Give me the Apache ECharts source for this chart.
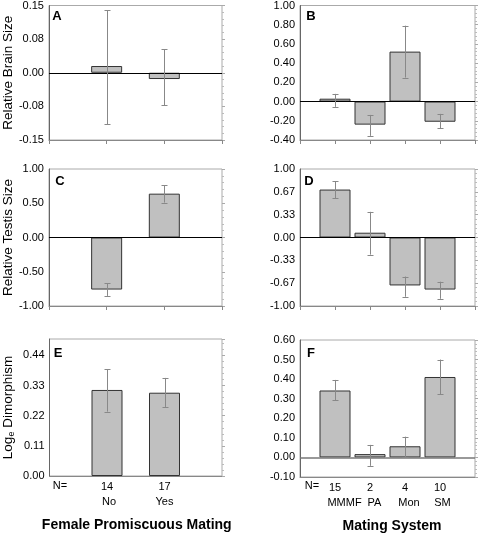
<!DOCTYPE html>
<html><head><meta charset="utf-8">
<script src="https://cdn.jsdelivr.net/npm/echarts@6/dist/echarts.min.js"></script>
<style>html,body{margin:0;padding:0;background:#fff}#c{width:478px;height:536px}</style>
</head><body><div id="c"></div>
<script>
// ---------- DATA ----------
// Panel A: Relative brain size by female promiscuous mating
const brainPromMean = [0.015, -0.014];
const brainPromLo   = [-0.115, -0.073];
const brainPromHi   = [0.139, 0.052];
// Panel B: Relative brain size by mating system
const brainMatMean = [0.03, -0.24, 0.52, -0.21];
const brainMatLo   = [-0.055, -0.357, 0.25, -0.278];
const brainMatHi   = [0.08, -0.139, 0.79, -0.128];
// Panel C: Relative testis size by female promiscuous mating
const testisPromMean = [-0.76, 0.64];
const testisPromLo   = [-0.853, 0.51];
const testisPromHi   = [-0.667, 0.76];
// Panel D: Relative testis size by mating system
const testisMatMean = [0.70, 0.07, -0.70, -0.76];
const testisMatLo   = [0.57, -0.25, -0.865, -0.895];
const testisMatHi   = [0.82, 0.375, -0.57, -0.645];
// Panel E: Log_e dimorphism by female promiscuous mating
const dimPromMean = [0.314, 0.304];
const dimPromLo   = [0.235, 0.252];
const dimPromHi   = [0.389, 0.358];
// Panel F: Log_e dimorphism by mating system
const dimMatMean = [0.342, 0.017, 0.057, 0.411];
const dimMatLo   = [0.292, -0.043, 0.0, 0.323];
const dimMatHi   = [0.396, 0.064, 0.106, 0.50];

// Categories and sample sizes
const promCategories = ['No', 'Yes'];
const promN = ['14', '17'];
const matCategories = ['MMMF', 'PA', 'Mon', 'SM'];
const matN = ['15', '2', '4', '10'];

// Tick labels
const ticksA = ['-0.15', '-0.08', '0.00', '0.08', '0.15'];
const ticksB = ['-0.40', '-0.20', '0.00', '0.20', '0.40', '0.60', '0.80', '1.00'];
const ticksC = ['-1.00', '-0.50', '0.00', '0.50', '1.00'];
const ticksD = ['-1.00', '-0.67', '-0.33', '0.00', '0.33', '0.67', '1.00'];
const ticksE = ['0.00', '0.11', '0.22', '0.33', '0.44'];
const ticksF = ['-0.10', '0.00', '0.10', '0.20', '0.30', '0.40', '0.50', '0.60'];

// ---------- LAYOUT / STYLE ----------
const FONT = "'Liberation Sans', Arial, sans-serif";
const grids = [
  {left: 47, top: 5, width: 175, height: 135},
  {left: 300, top: 5, width: 175, height: 135},
  {left: 48, top: 169, width: 174, height: 137},
  {left: 300, top: 169, width: 175, height: 137},
  {left: 48, top: 339, width: 174, height: 137},
  {left: 300, top: 340, width: 175, height: 137}
];
const promShift = [4, 0];
const matShift = [19, 9, 8, 5];

const panels = [
  {mean: brainPromMean, lo: brainPromLo, hi: brainPromHi, xMax: 3, yMin: -0.15, yMax: 0.15, yInt: 0.075, ticks: ticksA, name: 'Relative Brain Size', zero: '#000'},
  {mean: brainMatMean, lo: brainMatLo, hi: brainMatHi, xMax: 5, yMin: -0.4, yMax: 1.0, yInt: 0.2, ticks: ticksB, zero: '#000'},
  {mean: testisPromMean, lo: testisPromLo, hi: testisPromHi, xMax: 3, yMin: -1, yMax: 1, yInt: 0.5, ticks: ticksC, name: 'Relative Testis Size', zero: '#000'},
  {mean: testisMatMean, lo: testisMatLo, hi: testisMatHi, xMax: 5, yMin: -1, yMax: 1, yInt: 1/3, ticks: ticksD, zero: '#000'},
  {mean: dimPromMean, lo: dimPromLo, hi: dimPromHi, xMax: 3, yMin: 0, yMax: 0.5, yInt: 0.11, ticks: ticksE, name: '{a|Log}{s|e}{a| Dimorphism}', cats: promCategories, ns: promN, shift: promShift, xName: 'Female Promiscuous Mating', xNamePad: 2},
  {mean: dimMatMean, lo: dimMatLo, hi: dimMatHi, xMax: 5, yMin: -0.1, yMax: 0.6, yInt: 0.1, ticks: ticksF, cats: matCategories, ns: matN, shift: matShift, xName: 'Mating System', xNamePad: 9, zero: '#777', zeroW: 1.5}
];
const letters = ['A', 'B', 'C', 'D', 'E', 'F'];
const letterPos = [[57, 16], [311, 16], [60, 181], [309, 181], [58, 353], [311, 353]];

const option = {
  animation: false,
  backgroundColor: '#fff',
  textStyle: {fontFamily: FONT},
  grid: [], xAxis: [], yAxis: [], series: [], graphic: []
};

panels.forEach((p, i) => {
  const g = grids[i];
  option.grid.push(Object.assign({show: true, borderColor: '#aaa', borderWidth: 1, backgroundColor: 'transparent'}, g));
  const hasCats = !!p.cats;
  const rich = {n: {fontSize: 11, lineHeight: 15, fontFamily: FONT, color: '#000'}};
  if (hasCats) p.cats.forEach((c, k) => { rich['c' + k] = {fontSize: 11, lineHeight: 15, fontFamily: FONT, color: '#000', padding: [0, 0, 0, p.shift[k]]}; });
  option.xAxis.push({
    type: 'value', gridIndex: i, min: 0, max: p.xMax, interval: 1,
    axisLine: {show: true, onZero: false, lineStyle: {color: '#888', width: 1}},
    axisTick: {show: !hasCats, length: 4, lineStyle: {color: '#888'}},
    splitLine: {show: false},
    axisLabel: {
      show: hasCats, margin: 3, interval: 0, rich: rich,
      formatter: (v) => {
        const k = Math.round(v) - 1;
        if (!hasCats || k < 0 || k >= p.cats.length) return '';
        return '{n|' + p.ns[k] + '}\n{c' + k + '|' + p.cats[k] + '}';
      }
    },
    name: p.xName || '', nameLocation: 'middle', nameGap: 42,
    nameTextStyle: {fontSize: 14, fontWeight: 'bold', color: '#000', fontFamily: FONT, padding: [0, 0, 0, p.xNamePad || 0]}
  });
  const fmt = (v) => {
    const k = Math.round((v - p.yMin) / p.yInt);
    if (Math.abs(p.yMin + k * p.yInt - v) > p.yInt * 1e-3) return '';
    return p.ticks[k] !== undefined ? p.ticks[k] : '';
  };
  option.yAxis.push({
    type: 'value', gridIndex: i, position: 'left', min: p.yMin, max: p.yMax, interval: p.yInt,
    axisLine: {show: true, onZero: false, lineStyle: {color: '#666'}},
    axisTick: {show: false},
    splitLine: {show: false},
    axisLabel: {fontSize: 11, color: '#000', margin: 5, formatter: fmt, fontFamily: FONT},
    name: p.name || '', nameLocation: 'middle', nameGap: 33,
    nameTextStyle: {fontSize: 13.5, color: '#000', fontFamily: FONT,
      rich: {a: {fontSize: 13.5, color: '#000', fontFamily: FONT}, s: {fontSize: 9, color: '#000', fontFamily: FONT, padding: [8, 0, 0, 0]}}}
  });
  option.yAxis.push({
    type: 'value', gridIndex: i, position: 'right', min: p.yMin, max: p.yMax, interval: p.yInt,
    axisLine: {show: false, onZero: false},
    axisTick: {show: true, length: 3, lineStyle: {color: '#aaa'}},
    minorTick: {show: true, splitNumber: 5, length: 2, lineStyle: {color: '#bbb'}},
    splitLine: {show: false}, minorSplitLine: {show: false},
    axisLabel: {show: false}
  });
  const yIdx = i * 2;
  const bar = {
    type: 'bar', xAxisIndex: i, yAxisIndex: yIdx, barWidth: 31,
    data: p.mean.map((v, k) => [k + 1, v]),
    itemStyle: {color: '#c0c0c0', borderColor: '#333', borderWidth: 1},
    z: 2
  };
  if (p.zero) {
    bar.markLine = {silent: true, symbol: ['none', 'none'], label: {show: false},
      lineStyle: {color: p.zero, width: p.zeroW || 1, type: 'solid'}, data: [{yAxis: 0}]};
  }
  option.series.push(bar);
  option.series.push({
    type: 'custom', xAxisIndex: i, yAxisIndex: yIdx, z: 5,
    data: p.mean.map((v, k) => [k + 1, p.lo[k], p.hi[k]]),
    renderItem: (params, api) => {
      const x = api.value(0);
      const a = api.coord([x, api.value(1)]);
      const b = api.coord([x, api.value(2)]);
      const cx = Math.round(a[0]) + 0.5;
      const cap = 3;
      const st = {stroke: '#888', lineWidth: 1};
      return {type: 'group', children: [
        {type: 'line', shape: {x1: cx, y1: a[1], x2: cx, y2: b[1]}, style: st},
        {type: 'line', shape: {x1: cx - cap, y1: Math.round(a[1]) + 0.5, x2: cx + cap, y2: Math.round(a[1]) + 0.5}, style: st},
        {type: 'line', shape: {x1: cx - cap, y1: Math.round(b[1]) + 0.5, x2: cx + cap, y2: Math.round(b[1]) + 0.5}, style: st}
      ]};
    }
  });
  option.graphic.push({type: 'text', x: letterPos[i][0], y: letterPos[i][1],
    style: {text: letters[i], font: 'bold 13px ' + FONT, fill: '#000', align: 'center', verticalAlign: 'middle'}});
  if (hasCats) {
    option.graphic.push({type: 'text', x: g.left + 12, y: 486,
      style: {text: 'N=', font: '11px ' + FONT, fill: '#000', align: 'center', verticalAlign: 'middle'}});
  }
});

const chart = echarts.init(document.getElementById('c'), null, {renderer: 'canvas'});
chart.setOption(option);
</script></body></html>
